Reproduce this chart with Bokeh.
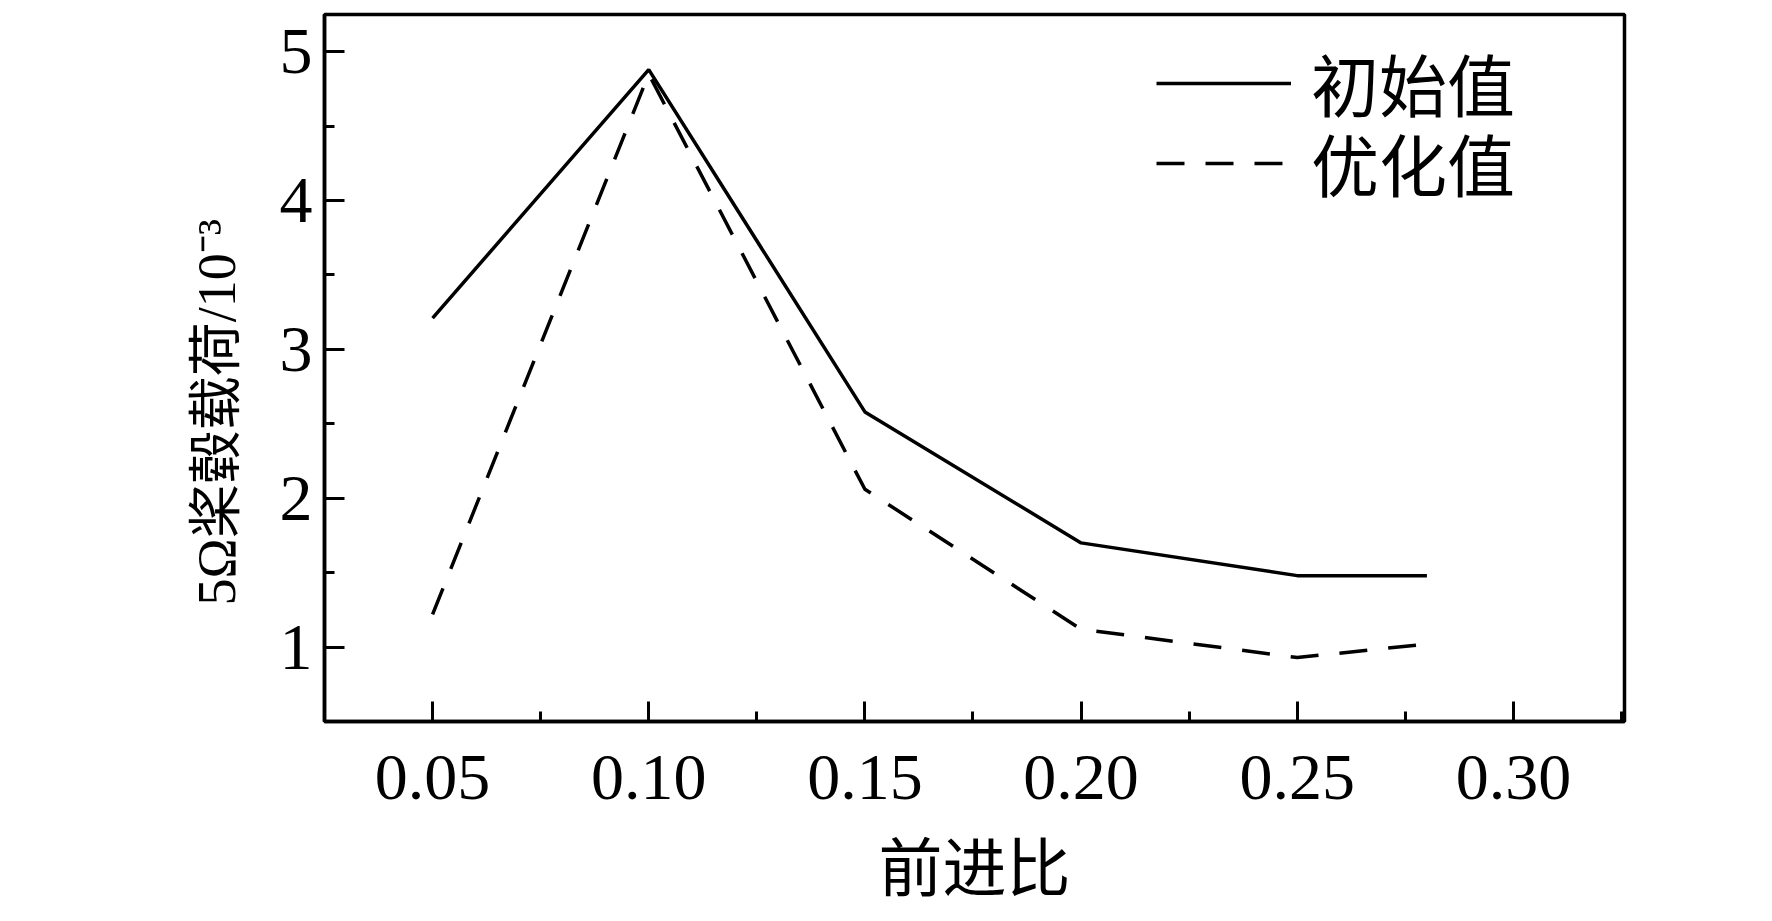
from bokeh.plotting import figure
from bokeh.models import FixedTicker, Range1d, Legend, LegendItem, ColumnDataSource, Title
from bokeh.embed import file_html
from bokeh.resources import INLINE

# ---- data ----
advance_ratio = [0.05, 0.10, 0.15, 0.20, 0.25, 0.28]
initial_values = [3.21, 4.88, 2.58, 1.70, 1.48, 1.48]
optimized_values = [1.22, 4.85, 2.06, 1.12, 0.93, 1.02]

x_ticks = [0.05, 0.10, 0.15, 0.20, 0.25, 0.30]
x_tick_labels = ["0.05", "0.10", "0.15", "0.20", "0.25", "0.30"]
y_ticks = [1, 2, 3, 4, 5]
y_tick_labels = ["1", "2", "3", "4", "5"]

series_names = ["初始值", "优化值"]
x_title = "前进比"
y_title = "5Ω桨毂载荷/10⁻³"

SERIF = "Liberation Serif, Times New Roman, Noto Sans CJK SC, serif"

src = ColumnDataSource(dict(x=advance_ratio, a=initial_values, b=optimized_values))

p = figure(
    frame_width=1300, frame_height=707,
    x_range=Range1d(0.025, 0.3257), y_range=Range1d(0.5, 5.25),
    output_backend="svg", toolbar_location=None,
    min_border_left=324, min_border_top=14, min_border_right=10, min_border_bottom=10,
)
p.background_fill_color = "white"
p.border_fill_color = "white"
p.grid.visible = False
p.outline_line_color = "black"
p.outline_line_width = 3.5

r1 = p.line("x", "a", source=src, line_color="black", line_width=3.5)
r2 = p.line("x", "b", source=src, line_color="black", line_width=3.5, line_dash="28 21")

x_minor = [round(t - 0.025, 3) for t in x_ticks] + [round(x_ticks[-1] + 0.025, 3)]
y_minor = [t - 0.5 for t in y_ticks] + [y_ticks[-1] + 0.5]
p.xaxis.ticker = FixedTicker(ticks=x_ticks, minor_ticks=x_minor)
p.yaxis.ticker = FixedTicker(ticks=y_ticks, minor_ticks=y_minor)
p.xaxis.major_label_overrides = {t: l for t, l in zip(x_ticks, x_tick_labels)}
p.yaxis.major_label_overrides = {t: l for t, l in zip(y_ticks, y_tick_labels)}

for ax in (p.xaxis[0], p.yaxis[0]):
    ax.axis_line_width = 3.5
    ax.axis_line_color = "black"
    ax.major_tick_in = 20
    ax.major_tick_out = 0
    ax.minor_tick_in = 10
    ax.minor_tick_out = 0
    ax.major_tick_line_width = 3
    ax.minor_tick_line_width = 3
    ax.major_label_text_font = SERIF
    ax.major_label_text_font_size = "66px"
    ax.major_label_text_color = "black"
    ax.axis_label_text_font = SERIF
    ax.axis_label_text_font_style = "normal"
    ax.axis_label_text_color = "black"

p.xaxis.axis_label = x_title
p.xaxis.axis_label_text_font_size = "64px"
p.xaxis.major_label_standoff = 34
p.xaxis.axis_label_standoff = 32

p.yaxis.major_label_standoff = 12

# y-axis title as a side title (lets it sit lower than the frame centre, as in the original)
p.add_layout(Title(
    text=y_title, align="left", offset=116, standoff=59,
    text_font=SERIF, text_font_size="54px", text_font_style="normal",
    text_color="black",
), "left")

legend_common = dict(
    padding=0, margin=0, spacing=0,
    glyph_width=135, glyph_height=98, label_height=98,
    label_standoff=20,
    label_text_font=SERIF, label_text_font_size="68px",
    label_text_color="black",
    border_line_color=None, background_fill_alpha=0,
)
p.add_layout(Legend(items=[LegendItem(label=series_names[0], renderers=[r1])],
                    location=(832, 589), **legend_common))
p.add_layout(Legend(items=[LegendItem(label=series_names[1], renderers=[r2])],
                    location=(832, 509), **legend_common))

open("out.html", "w").write(file_html(p, INLINE))
